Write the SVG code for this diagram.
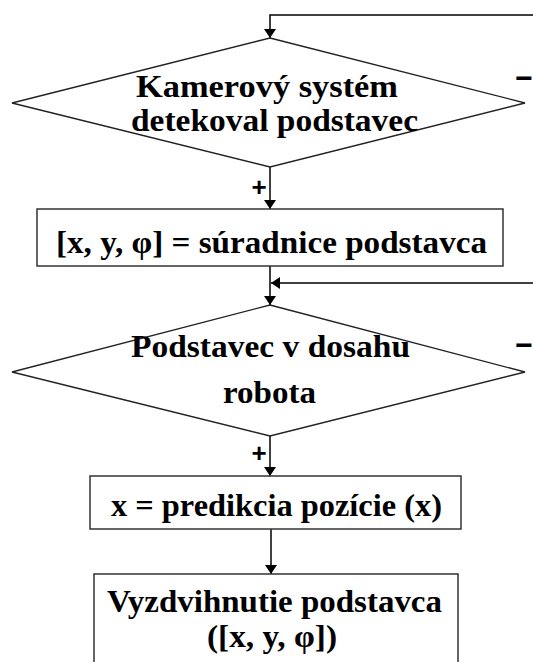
<svg xmlns="http://www.w3.org/2000/svg" width="533" height="662" viewBox="0 0 533 662">
<style>
.bg{fill:#fff}
.dia{fill:none;stroke:#222;stroke-width:1.3}
.box{fill:none;stroke:#333;stroke-width:1.5}
.t{font-family:"Liberation Serif","Times New Roman",serif;font-weight:bold;font-size:31px;fill:#000}
.sign{font-family:"Liberation Sans",Arial,sans-serif;font-weight:bold;fill:#000;text-anchor:middle}
.ln{fill:none;stroke:#000;stroke-width:1.5}
</style>
<defs>
<marker id="ahd" markerUnits="userSpaceOnUse" markerWidth="12" markerHeight="12" refX="9" refY="6" orient="auto">
<path d="M0,0 L9,6 L0,12 Z" fill="#000"/>
</marker>
</defs>
<rect class="bg" x="0" y="0" width="533" height="662"/>
<g id="connectors">
<path class="ln" d="M533,15 H270 V38" marker-end="url(#ahd)"/>
<path class="ln" d="M270,167 V209" marker-end="url(#ahd)"/>
<path class="ln" d="M270,266 V305" marker-end="url(#ahd)"/>
<path class="ln" d="M533,283 H271" marker-end="url(#ahd)"/>
<path class="ln" d="M270,436 V476" marker-end="url(#ahd)"/>
<path class="ln" d="M271,529 V574" marker-end="url(#ahd)"/>
<text class="sign" x="259" y="196" font-size="26">+</text>
<text class="sign" x="259" y="462" font-size="26">+</text>
<text class="sign" x="524" y="88" font-size="30">−</text>
<text class="sign" x="524" y="355" font-size="30">−</text>
</g>
<g id="decision1">
<polygon class="dia" points="270,38 525,103 270,167 12,103"/>
<text class="t" x="136" y="97" textLength="262" lengthAdjust="spacingAndGlyphs">Kamerový systém</text>
<text class="t" x="131" y="131" textLength="287" lengthAdjust="spacingAndGlyphs">detekoval podstavec</text>
</g>
<g id="process1">
<rect class="box" x="37" y="209" width="466" height="57"/>
<text class="t" x="56" y="253" textLength="431" lengthAdjust="spacingAndGlyphs">[x, y, φ] = súradnice podstavca</text>
</g>
<g id="decision2">
<polygon class="dia" points="270,305 525,372 270,436 12,372"/>
<text class="t" x="131" y="357" textLength="279" lengthAdjust="spacingAndGlyphs">Podstavec v dosahu</text>
<text class="t" x="223" y="403" textLength="93" lengthAdjust="spacingAndGlyphs">robota</text>
</g>
<g id="process2">
<rect class="box" x="90" y="476" width="371" height="53"/>
<text class="t" x="111" y="516" textLength="331" lengthAdjust="spacingAndGlyphs">x = predikcia pozície (x)</text>
</g>
<g id="process3">
<rect class="box" x="94" y="574" width="364" height="100"/>
<text class="t" x="107" y="612" textLength="335" lengthAdjust="spacingAndGlyphs">Vyzdvihnutie podstavca</text>
<text class="t" x="207" y="647" textLength="130" lengthAdjust="spacingAndGlyphs">([x, y, φ])</text>
</g>
</svg>
